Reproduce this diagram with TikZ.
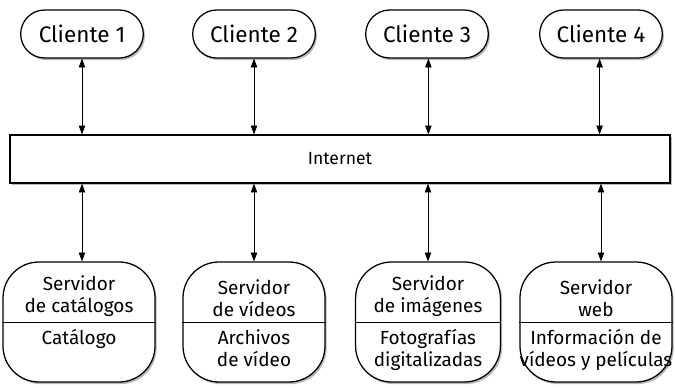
\documentclass[tikz,border=0pt]{standalone}
\usepackage{fontspec}
\setmainfont{Fira Sans}
\usetikzlibrary{arrows.meta,shadows,shapes.misc}
\begin{document}
\begin{tikzpicture}[x=0.25mm, y=-0.25mm, font=\fontsize{13.5}{15.5}\selectfont,
		box/.style = {draw, line width=0.9pt, fill=white, drop shadow={shadow xshift=1.2pt, shadow yshift=-1.5pt, fill=black!55}},
		client/.style = {box, rounded rectangle, minimum width=33mm, minimum height=12mm, font=\fontsize{16}{18}\selectfont},
		server/.style = {box, rounded corners=9mm, minimum height=30mm},
		txt/.style = {align=center, inner sep=1pt},
		link/.style = {{Triangle[length=2.2mm,width=1.6mm]}-{Triangle[length=2.2mm,width=1.6mm]}, line width=0.5pt}]
		
		\useasboundingbox (0,0) rectangle (675,387);
		
		\node[client] (c1) at (82,34) {Cliente 1};
		\node[client] (c2) at (254,34) {Cliente 2};
		\node[client] (c3) at (427,34) {Cliente 3};
		\node[client] (c4) at (601,34) {Cliente 4};
		
		\node[box, minimum width=165mm, minimum height=12mm, font=\fontsize{12.5}{15}\selectfont] (net) at (340,159) {Internet};
		
		\node[server, minimum width=38mm] (s1) at (79,322) {};
		\node[server, minimum width=35.5mm] (s2) at (254,322) {};
		\node[server, minimum width=36.2mm] (s3) at (428,322) {};
		\node[server, minimum width=38mm] (s4) at (596,322) {};
		
		\draw[line width=0.7pt] (s1.west) -- (s1.east);
		\draw[line width=0.7pt] (s2.west) -- (s2.east);
		\draw[line width=0.7pt] (s3.west) -- (s3.east);
		\draw[line width=0.7pt] (s4.west) -- (s4.east);
		
		\node[txt, anchor=south] (t1) at ([yshift=1mm]s1.center) {Servidor\\de catálogos};
		\node[txt, anchor=south] (t2) at ([yshift=1mm]s2.center) {Servidor\\de vídeos};
		\node[txt, anchor=south] (t3) at ([yshift=1mm]s3.center) {Servidor\\de imágenes};
		\node[txt, anchor=south] (t4) at ([yshift=1mm]s4.center) {Servidor\\web};
		
		\node[txt, anchor=north] (b1) at ([yshift=-1.5mm]s1.center) {Catálogo};
		\node[txt, anchor=north] (b2) at ([yshift=-1.5mm]s2.center) {Archivos\\de vídeo};
		\node[txt, anchor=north] (b3) at ([yshift=-1.5mm]s3.center) {Fotografías\\digitalizadas};
		\node[txt, anchor=north] (b4) at ([yshift=-1.5mm]s4.center) {Información de\\vídeos y películas};
		
		\draw[link] (c1.south) -- (c1.south |- net.north);
		\draw[link] (c2.south) -- (c2.south |- net.north);
		\draw[link] ([xshift=1pt]c3.south) -- ([xshift=1pt]c3.south |- net.north);
		\draw[link] ([xshift=-1pt]c4.south) -- ([xshift=-1pt]c4.south |- net.north);
		
		\draw[link] (net.south -| c1) -- (s1.north -| c1);
		\draw[link] (net.south -| c2) -- (s2.north -| c2);
		\draw[link] (net.south -| s3) -- (s3.north);
		\draw[link] (net.south -| c4) -- (s4.north -| c4);
		
	\end{tikzpicture}
\end{document}
